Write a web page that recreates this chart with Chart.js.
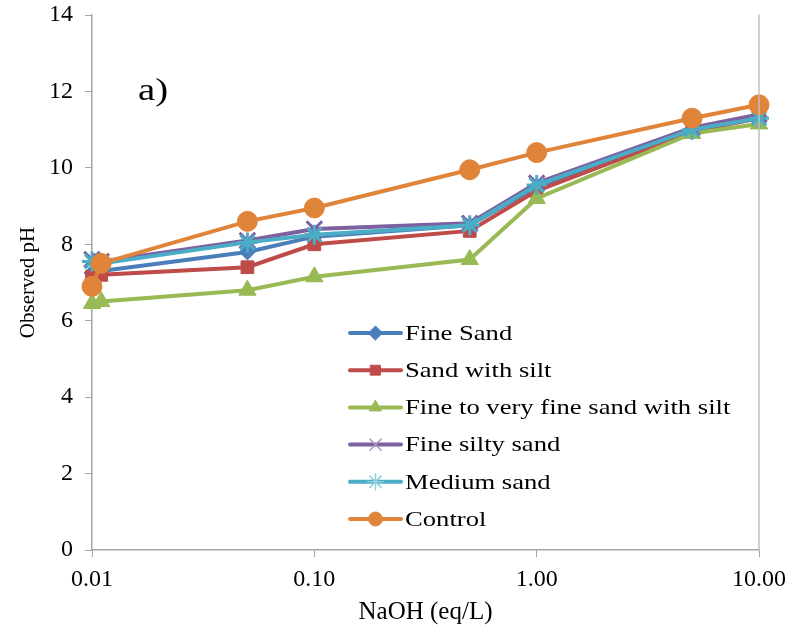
<!DOCTYPE html>
<html>
<head>
<meta charset="utf-8">
<script src="https://cdn.jsdelivr.net/npm/chart.js@4/dist/chart.umd.min.js"></script>
<style>
  html, body { margin: 0; padding: 0; background: #fff; }
  #wrap { width: 791px; height: 633px; position: relative; }
</style>
</head>
<body>
<div id="wrap"><canvas id="c" width="791" height="633"></canvas></div>
<script>
// NaOH concentration (eq/L)
const naoh = [0.01, 0.011, 0.05, 0.1, 0.5, 1, 5, 10];

// Observed pH per soil type
const fineSand       = [7.25, 7.30, 7.80, 8.20, 8.50, 9.50, 11.00, 11.35];
const sandWithSilt   = [7.15, 7.20, 7.40, 8.00, 8.35, 9.40, 10.95, 11.30];
const fineToVeryFine = [6.45, 6.50, 6.80, 7.15, 7.60, 9.20, 10.90, 11.15];
const fineSiltySand  = [7.60, 7.55, 8.10, 8.40, 8.55, 9.60, 11.05, 11.40];
const mediumSand     = [7.55, 7.50, 8.05, 8.25, 8.50, 9.55, 11.00, 11.30];
const control        = [6.90, 7.50, 8.60, 8.95, 9.95, 10.40, 11.30, 11.65];

const seriesNames = ['Fine Sand', 'Sand with silt', 'Fine to very fine sand with silt',
                     'Fine silty sand', 'Medium sand', 'Control'];
const xTicks = [0.01, 0.1, 1, 10];
const yTicks = [0, 2, 4, 6, 8, 10, 12, 14];

const serif = "'Liberation Serif', 'Times New Roman', serif";

const styles = [
  { color: '#4A7EBB', point: 'rectRot',  radius: 8,  legendRadius: 7 },
  { color: '#BE4B48', point: 'rect',     radius: 9,  legendRadius: 7 },
  { color: '#98B954', point: 'triangle', radius: 10, legendRadius: 7 },
  { color: '#7D60A0', point: 'crossRot', radius: 11, legendRadius: 8, light: '#A896C0' },
  { color: '#4BACC6', point: 'star',     radius: 10, legendRadius: 8, light: '#8FD0E0' },
  { color: '#E0843A', point: 'circle',   radius: 10, legendRadius: 7 }
];

const valueSets = [fineSand, sandWithSilt, fineToVeryFine, fineSiltySand, mediumSand, control];

const datasets = valueSets.map((vals, i) => ({
  label: seriesNames[i],
  data: naoh.map((x, k) => ({ x: x, y: vals[k] })),
  borderColor: styles[i].color,
  backgroundColor: styles[i].color,
  pointBorderColor: styles[i].color,
  pointBackgroundColor: styles[i].color,
  pointStyle: styles[i].point,
  pointRadius: styles[i].radius,
  pointBorderWidth: (styles[i].point === 'crossRot' || styles[i].point === 'star') ? 3 : 1,
  borderWidth: 4,
  tension: 0,
  clip: false,
  order: valueSets.length - i
}));

// draws text with a horizontal stretch, left aligned at x
function wideText(ctx, text, x, y, font, sx) {
  ctx.save();
  ctx.font = font;
  ctx.translate(x, y);
  ctx.scale(sx, 1);
  ctx.fillText(text, 0, 0);
  ctx.restore();
}

// Legend drawn inside the plot area
const innerLegend = {
  id: 'innerLegend',
  afterDraw(chart) {
    const ctx = chart.ctx;
    const x0 = 350, x1 = 401, y0 = 333, step = 37.2;
    ctx.save();
    chart.data.datasets.forEach((ds, i) => {
      const y = y0 + i * step;
      const st = styles[i];
      ctx.strokeStyle = st.color;
      ctx.lineWidth = 4;
      ctx.lineCap = 'round';
      ctx.beginPath();
      ctx.moveTo(x0, y);
      ctx.lineTo(x1, y);
      ctx.stroke();
      ctx.fillStyle = st.color;
      ctx.strokeStyle = st.light || st.color;
      ctx.lineWidth = (st.point === 'crossRot' || st.point === 'star') ? 1.5 : 1;
      Chart.helpers.drawPoint(ctx, { pointStyle: st.point, radius: st.legendRadius, rotation: 0, borderWidth: ctx.lineWidth },
        (x0 + x1) / 2, y);
      ctx.fillStyle = '#000';
      ctx.textAlign = 'left';
      ctx.textBaseline = 'middle';
      wideText(ctx, ds.label, x1 + 4, y + 1, '22px ' + serif, 1.21);
    });
    // panel label
    ctx.fillStyle = '#000';
    ctx.textAlign = 'left';
    ctx.textBaseline = 'middle';
    wideText(ctx, 'a)', 138, 92, '31px ' + serif, 1.25);
    // right border of plot area
    const a = chart.chartArea;
    ctx.strokeStyle = '#BFBFBF';
    ctx.lineWidth = 1.5;
    ctx.beginPath();
    ctx.moveTo(a.right, a.top);
    ctx.lineTo(a.right, a.bottom);
    ctx.stroke();
    ctx.restore();
  }
};

new Chart(document.getElementById('c'), {
  type: 'line',
  data: { datasets: datasets },
  plugins: [innerLegend],
  options: {
    responsive: false,
    animation: false,
    layout: { padding: { top: 15, right: 32, left: 12, bottom: 0 } },
    plugins: { legend: { display: false }, tooltip: { enabled: false } },
    scales: {
      x: {
        type: 'logarithmic',
        min: 0.01,
        max: 10,
        afterBuildTicks(axis) { axis.ticks = xTicks.map(v => ({ value: v })); },
        afterFit(axis) { axis.height = 83; axis.paddingLeft = 0; axis.paddingRight = 0; },
        ticks: {
          autoSkip: false,
          maxRotation: 0,
          color: '#000',
          padding: 8,
          font: { family: serif, size: 24 },
          callback: v => Number(v).toFixed(2)
        },
        grid: { drawOnChartArea: false, drawTicks: true, tickLength: 7, color: '#A6A6A6', lineWidth: 1 },
        border: { color: '#A6A6A6', width: 1.5 },
        title: { display: true, text: 'NaOH (eq/L)', color: '#000', font: { family: serif, size: 25 }, padding: { top: 2, bottom: 6 } }
      },
      y: {
        min: 0,
        max: 14,
        afterBuildTicks(axis) { axis.ticks = yTicks.map(v => ({ value: v })); },
        afterFit(axis) { axis.width = 80; axis.paddingTop = 0; axis.paddingBottom = 0; },
        ticks: {
          color: '#000',
          padding: 12,
          font: { family: serif, size: 24 },
          callback: v => String(v)
        },
        grid: { drawOnChartArea: false, drawTicks: true, tickLength: 7, color: '#A6A6A6', lineWidth: 1 },
        border: { color: '#A6A6A6', width: 1.5 },
        title: { display: true, text: 'Observed pH', color: '#000', font: { family: serif, size: 21 }, padding: { bottom: 4 } }
      }
    }
  }
});
</script>
</body>
</html>
